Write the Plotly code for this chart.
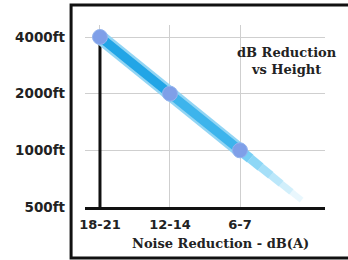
import plotly.graph_objects as go

# Data
categories = ["18-21", "12-14", "6-7"]          # noise reduction dB(A)
heights = [4000, 2000, 1000]                     # altitude in ft
y_ticks = [500, 1000, 2000, 4000]
y_tick_labels = ["500ft", "1000ft", "2000ft", "4000ft"]
title_text = "dB Reduction<br>vs Height"
x_title = "Noise Reduction - dB(A)"

xi = list(range(len(categories)))

fig = go.Figure()

# black vertical reference line at first category
fig.add_trace(go.Scatter(x=[xi[0], xi[0]], y=[heights[0], min(y_ticks)], mode="lines",
                         line=dict(color="#111111", width=3), hoverinfo="skip", showlegend=False))

# glow + main line
fig.add_trace(go.Scatter(x=xi, y=heights, mode="lines",
                         line=dict(color="#92d5f4", width=14), hoverinfo="skip", showlegend=False))
seg_colors = ["#22a5e6", "#3db4ec"]
for k in range(len(xi) - 1):
    fig.add_trace(go.Scatter(x=xi[k:k + 2], y=heights[k:k + 2], mode="lines",
                             line=dict(color=seg_colors[k], width=9), hoverinfo="skip", showlegend=False))

# fading tail, continuing the trend of the last step
ratio = heights[-1] / heights[-2]
n_tail = 6
tail_len = 0.88
for j in range(n_tail):
    t0 = tail_len * j / n_tail
    t1 = tail_len * (j + 1) / n_tail
    a = 0.8 * (1 - j / n_tail)
    w = 10 - 0.8 * j
    fig.add_trace(go.Scatter(x=[xi[-1] + t0, xi[-1] + t1],
                             y=[heights[-1] * ratio ** t0, heights[-1] * ratio ** t1],
                             mode="lines", line=dict(color=f"rgba(85,195,242,{a:.2f})", width=w),
                             hoverinfo="skip", showlegend=False))

# markers
fig.add_trace(go.Scatter(x=xi, y=heights, mode="markers",
                         marker=dict(color="#7f9fe8", size=15, line=dict(color="#94b4ee", width=1)),
                         showlegend=False))

ybot = 2.69897
ytop = 3.6658

fig.update_layout(
    width=348, height=260,
    margin=dict(l=85, r=23, t=25, b=53),
    paper_bgcolor="white", plot_bgcolor="white",
    font=dict(family="DejaVu Sans", color="#222222"),
    xaxis=dict(range=[-0.214, 3.214], tickvals=xi, ticktext=categories, automargin=False,
               showgrid=True, gridcolor="#cfcfcf", gridwidth=1, zeroline=False,
               showline=True, linecolor="#111111", linewidth=3,
               tickfont=dict(family="DejaVu Sans", size=13, color="#222222", weight="bold"),
               ticks="", ticklabelstandoff=3),
    yaxis=dict(type="log", range=[ybot, ytop], tickvals=y_ticks, ticktext=y_tick_labels,
               automargin=False,
               showgrid=True, gridcolor="#cfcfcf", gridwidth=1, zeroline=False, showline=False,
               ticks="", ticklabelstandoff=19,
               tickfont=dict(family="DejaVu Sans", size=13.5, color="#222222", weight="bold")),
)

fig.add_annotation(text=title_text, xref="paper", yref="paper", x=0.84, y=0.802,
                   xanchor="center", yanchor="middle",
                   showarrow=False, align="center",
                   font=dict(family="DejaVu Serif", size=13, color="#222222", weight="bold"))

fig.add_annotation(text=x_title, xref="paper", yref="paper", x=0.5625, y=-0.198,
                   xanchor="center", yanchor="middle", showarrow=False,
                   font=dict(family="DejaVu Serif", size=13, color="#222222", weight="bold"))

fig.add_shape(type="rect", xref="paper", yref="paper", x0=-0.058, x1=1.2, y0=-0.280, y1=1.110,
              line=dict(color="#111111", width=3), fillcolor="rgba(0,0,0,0)", layer="above")

fig.write_html("out.html", config={"displayModeBar": False},
               post_script="document.body.style.margin='0';document.body.style.padding='0';")
